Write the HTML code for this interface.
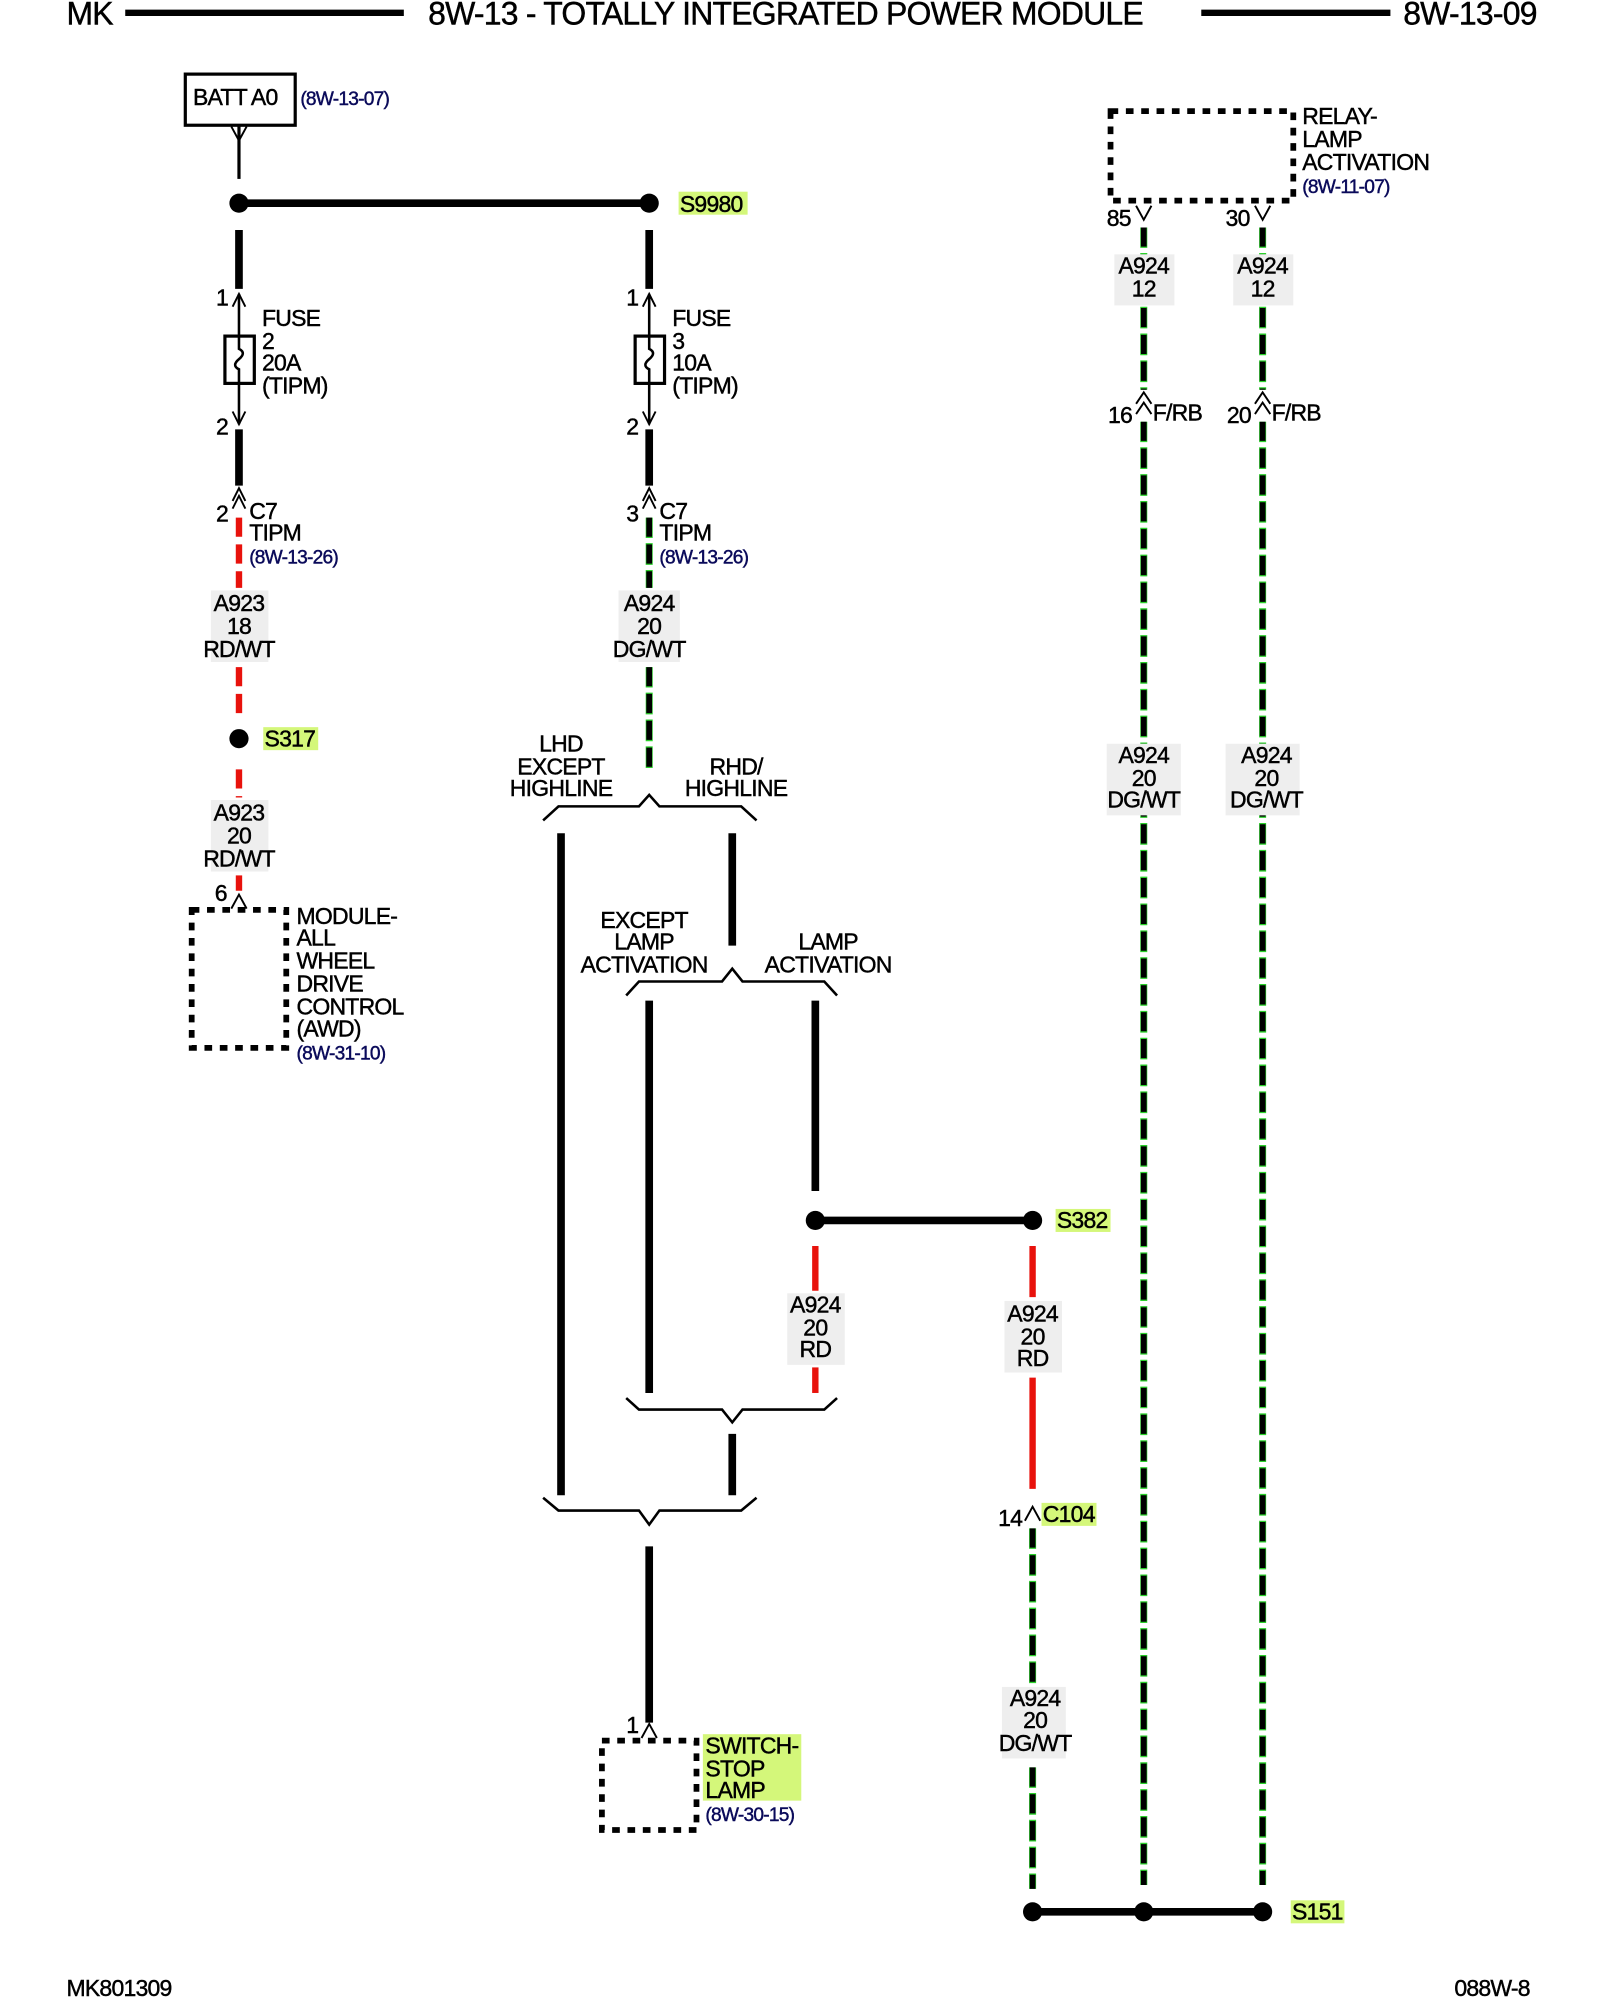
<!DOCTYPE html>
<html><head><meta charset="utf-8"><style>
html,body{margin:0;padding:0;background:#fff;}
svg{display:block;}
text{font-family:"Liberation Sans",Arial,sans-serif;font-size:18px;fill:#000;letter-spacing:-0.6px;stroke:#000;stroke-width:0.35px;}
.ref{fill:#0a0a5a;stroke:#0a0a5a;font-size:15px;}
.t{font-size:25px;}
.c{text-anchor:middle;}
</style></head><body>
<svg width="1600" height="2000" viewBox="0 0 1252 1565" preserveAspectRatio="none" xmlns="http://www.w3.org/2000/svg">
<!-- header -->
<text class="t" x="52" y="19">MK</text>
<line x1="98" y1="10" x2="316" y2="10" stroke="#000" stroke-width="5"/>
<text class="t" x="335" y="19">8W-13 - TOTALLY INTEGRATED POWER MODULE</text>
<line x1="940" y1="10" x2="1088" y2="10" stroke="#000" stroke-width="5"/>
<text class="t" x="1098" y="19">8W-13-09</text>

<!-- BATT -->
<rect x="145" y="58" width="86" height="40" fill="none" stroke="#000" stroke-width="2.5"/>
<text x="151" y="82">BATT A0</text>
<text class="ref" x="235" y="82">(8W-13-07)</text>
<polyline points="181,99 187,110 193,99" fill="none" stroke="#000" stroke-width="1.5"/>
<line x1="187" y1="99" x2="187" y2="140" stroke="#000" stroke-width="2.5"/>

<!-- S9980 -->
<line x1="187" y1="159" x2="508" y2="159" stroke="#000" stroke-width="6"/>
<circle cx="187" cy="159" r="7.5"/><circle cx="508" cy="159" r="7.5"/>
<rect x="531" y="150" width="54" height="18" fill="#d4f77a"/>
<text x="532" y="166">S9980</text>

<!-- fuse columns -->
<g id="fc">
<line x1="187" y1="180" x2="187" y2="226" stroke="#000" stroke-width="6"/>
<polyline points="182,240 187,230 192,240" fill="none" stroke="#000" stroke-width="1.5"/>
<line x1="187" y1="230" x2="187" y2="332" stroke="#000" stroke-width="2"/>
<rect x="176" y="263" width="23" height="37" fill="#fff" stroke="#000" stroke-width="2.5"/>
<path d="M187,263 v10 q6,3 0,8 q-6,5 0,8 v11" fill="none" stroke="#000" stroke-width="2"/>
<polyline points="182,322 187,332 192,322" fill="none" stroke="#000" stroke-width="1.5"/>
<line x1="187" y1="336" x2="187" y2="380" stroke="#000" stroke-width="6"/>
<polyline points="182,392 187,382 192,392" fill="none" stroke="#000" stroke-width="1.5"/>
<polyline points="182,398 187,388 192,398" fill="none" stroke="#000" stroke-width="1.5"/>
</g>
<use href="#fc" transform="translate(321,0)"/>
<text x="169" y="239">1</text><text x="169" y="340">2</text><text x="169" y="408">2</text>
<text x="490" y="239">1</text><text x="490" y="340">2</text><text x="490" y="408">3</text>
<text x="205" y="255">FUSE</text><text x="205" y="273">2</text><text x="205" y="290">20A</text><text x="205" y="308">(TIPM)</text>
<text x="526" y="255">FUSE</text><text x="526" y="273">3</text><text x="526" y="290">10A</text><text x="526" y="308">(TIPM)</text>
<text x="195" y="406">C7</text><text x="195" y="423">TIPM</text><text class="ref" x="195" y="441">(8W-13-26)</text>
<text x="516" y="406">C7</text><text x="516" y="423">TIPM</text><text class="ref" x="516" y="441">(8W-13-26)</text>

<!-- left red wire -->
<g stroke="#e8120c" stroke-width="5" stroke-dasharray="15 6">
<line x1="187" y1="405" x2="187" y2="460"/>
<line x1="187" y1="522" x2="187" y2="558"/>
<line x1="187" y1="602" x2="187" y2="624"/>
<line x1="187" y1="685" x2="187" y2="697"/>
</g>
<rect x="165" y="462" width="45" height="56" fill="#eeeeee"/>
<text class="c" x="187" y="478">A923</text><text class="c" x="187" y="496">18</text><text class="c" x="187" y="514">RD/WT</text>
<circle cx="187" cy="578" r="7.5"/>
<rect x="206" y="569" width="43" height="18" fill="#d4f77a"/><text x="207" y="584">S317</text>
<rect x="165" y="626" width="45" height="56" fill="#eeeeee"/>
<text class="c" x="187" y="642">A923</text><text class="c" x="187" y="660">20</text><text class="c" x="187" y="678">RD/WT</text>
<text x="168" y="705">6</text>
<polyline points="181,711 187,700 193,711" fill="none" stroke="#000" stroke-width="1.5"/>
<rect x="150" y="712" width="74" height="108" fill="none" stroke="#000" stroke-width="4.5" stroke-dasharray="6 6"/>
<text x="232" y="723">MODULE-</text><text x="232" y="740">ALL</text><text x="232" y="758">WHEEL</text><text x="232" y="776">DRIVE</text><text x="232" y="794">CONTROL</text><text x="232" y="811">(AWD)</text><text class="ref" x="232" y="829">(8W-31-10)</text>

<!-- middle green wire -->
<g>
<line x1="508" y1="405" x2="508" y2="460" stroke="#2bd12b" stroke-width="5.5" stroke-dasharray="17 4" stroke-dashoffset="1"/>
<line x1="508" y1="405" x2="508" y2="460" stroke="#000" stroke-width="4.5" stroke-dasharray="15 6"/>
<line x1="508" y1="522" x2="508" y2="602" stroke="#2bd12b" stroke-width="5.5" stroke-dasharray="17 4" stroke-dashoffset="1"/>
<line x1="508" y1="522" x2="508" y2="602" stroke="#000" stroke-width="4.5" stroke-dasharray="15 6"/>
</g>
<rect x="484" y="462" width="48" height="56" fill="#eeeeee"/>
<text class="c" x="508" y="478">A924</text><text class="c" x="508" y="496">20</text><text class="c" x="508" y="514">DG/WT</text>

<!-- brackets -->
<g fill="none" stroke="#000" stroke-width="2">
<polyline points="425,642 437,631 500,631 508,622 516,631 580,631 592,642"/>
<polyline points="490,779 500,768 565,768 573,758 581,768 645,768 655,779"/>
<polyline points="490,1094 500,1103 565,1103 573,1113 581,1103 645,1103 655,1094"/>
<polyline points="425,1172 437,1182 500,1182 508,1193 516,1182 580,1182 592,1172"/>
</g>
<text class="c" x="439" y="588">LHD</text><text class="c" x="439" y="606">EXCEPT</text><text class="c" x="439" y="623">HIGHLINE</text>
<text class="c" x="576" y="606">RHD/</text><text class="c" x="576" y="623">HIGHLINE</text>
<text class="c" x="504" y="726">EXCEPT</text><text class="c" x="504" y="743">LAMP</text><text class="c" x="504" y="761">ACTIVATION</text>
<text class="c" x="648" y="743">LAMP</text><text class="c" x="648" y="761">ACTIVATION</text>
<g stroke="#000" stroke-width="6">
<line x1="439" y1="652" x2="439" y2="1170"/>
<line x1="573" y1="652" x2="573" y2="740"/>
<line x1="508" y1="783" x2="508" y2="1090"/>
<line x1="638" y1="783" x2="638" y2="932"/>
<line x1="573" y1="1122" x2="573" y2="1170"/>
<line x1="508" y1="1210" x2="508" y2="1348"/>
<line x1="638" y1="955" x2="808" y2="955"/>
</g>
<circle cx="638" cy="955" r="7.5"/><circle cx="808" cy="955" r="7.5"/>
<rect x="826" y="946" width="43" height="18" fill="#d4f77a"/><text x="827" y="961">S382</text>

<!-- red wires -->
<g stroke="#e8120c" stroke-width="5">
<line x1="638" y1="975" x2="638" y2="1010"/>
<line x1="638" y1="1070" x2="638" y2="1090"/>
<line x1="808" y1="975" x2="808" y2="1015"/>
<line x1="808" y1="1078" x2="808" y2="1165"/>
</g>
<rect x="616" y="1012" width="45" height="56" fill="#eeeeee"/>
<text class="c" x="638" y="1027">A924</text><text class="c" x="638" y="1045">20</text><text class="c" x="638" y="1062">RD</text>
<rect x="786" y="1018" width="45" height="56" fill="#eeeeee"/>
<text class="c" x="808" y="1034">A924</text><text class="c" x="808" y="1052">20</text><text class="c" x="808" y="1069">RD</text>
<text x="781" y="1194">14</text>
<polyline points="802,1190 808,1179 814,1190" fill="none" stroke="#000" stroke-width="1.5"/>
<rect x="815" y="1176" width="43" height="18" fill="#d4f77a"/><text x="816" y="1191">C104</text>

<!-- switch -->
<text x="490" y="1356">1</text>
<polyline points="502,1360 508,1349 514,1360" fill="none" stroke="#000" stroke-width="1.5"/>
<rect x="471" y="1362" width="74" height="70" fill="none" stroke="#000" stroke-width="4.5" stroke-dasharray="6 6"/>
<rect x="550" y="1357" width="77" height="52" fill="#d4f77a"/>
<text x="552" y="1372">SWITCH-</text><text x="552" y="1390">STOP</text><text x="552" y="1407">LAMP</text>
<text class="ref" x="552" y="1425">(8W-30-15)</text>

<!-- right green wires -->
<g>
<line x1="808" y1="1196" x2="808" y2="1320" stroke="#2bd12b" stroke-width="5.5" stroke-dasharray="17 4" stroke-dashoffset="1"/>
<line x1="808" y1="1196" x2="808" y2="1320" stroke="#000" stroke-width="4.5" stroke-dasharray="15 6"/>
<line x1="808" y1="1383" x2="808" y2="1478" stroke="#2bd12b" stroke-width="5.5" stroke-dasharray="17 4" stroke-dashoffset="1"/>
<line x1="808" y1="1383" x2="808" y2="1478" stroke="#000" stroke-width="4.5" stroke-dasharray="15 6"/>
</g>
<rect x="784" y="1320" width="50" height="56" fill="#eeeeee"/>
<text class="c" x="810" y="1335">A924</text><text class="c" x="810" y="1352">20</text><text class="c" x="810" y="1370">DG/WT</text>

<g id="rw">
<line x1="895" y1="178" x2="895" y2="305" stroke="#2bd12b" stroke-width="5.5" stroke-dasharray="17 4" stroke-dashoffset="1"/>
<line x1="895" y1="178" x2="895" y2="305" stroke="#000" stroke-width="4.5" stroke-dasharray="15 6"/>
<line x1="895" y1="330" x2="895" y2="1475" stroke="#2bd12b" stroke-width="5.5" stroke-dasharray="17 4" stroke-dashoffset="1"/>
<line x1="895" y1="330" x2="895" y2="1475" stroke="#000" stroke-width="4.5" stroke-dasharray="15 6"/>
<rect x="872" y="199" width="47" height="40" fill="#eeeeee"/>
<rect x="866" y="582" width="58" height="56" fill="#eeeeee"/>
<polyline points="889,161 895,172 901,161" fill="none" stroke="#000" stroke-width="1.5"/>
<polyline points="889,316 895,307 901,316" fill="none" stroke="#000" stroke-width="1.5"/>
<polyline points="889,324 895,315 901,324" fill="none" stroke="#000" stroke-width="1.5"/>
</g>
<use href="#rw" transform="translate(93,0)"/>
<text class="c" x="895" y="214">A924</text><text class="c" x="895" y="232">12</text>
<text class="c" x="988" y="214">A924</text><text class="c" x="988" y="232">12</text>
<text class="c" x="895" y="597">A924</text><text class="c" x="895" y="615">20</text><text class="c" x="895" y="632">DG/WT</text>
<text class="c" x="991" y="597">A924</text><text class="c" x="991" y="615">20</text><text class="c" x="991" y="632">DG/WT</text>
<text x="866" y="177">85</text><text x="959" y="177">30</text>
<text x="867" y="331">16</text><text x="902" y="329">F/RB</text>
<text x="960" y="331">20</text><text x="995" y="329">F/RB</text>
<rect x="869" y="87" width="143" height="70" fill="none" stroke="#000" stroke-width="4.5" stroke-dasharray="6 6"/>
<text x="1019" y="97">RELAY-</text><text x="1019" y="115">LAMP</text><text x="1019" y="133">ACTIVATION</text><text class="ref" x="1019" y="151">(8W-11-07)</text>

<!-- S151 -->
<line x1="808" y1="1496" x2="988" y2="1496" stroke="#000" stroke-width="6"/>
<circle cx="808" cy="1496" r="7.5"/><circle cx="895" cy="1496" r="7.5"/><circle cx="988" cy="1496" r="7.5"/>
<rect x="1010" y="1487" width="42" height="18" fill="#d4f77a"/><text x="1011" y="1502">S151</text>

<!-- footer -->
<text x="52" y="1562">MK801309</text>
<text x="1138" y="1562">088W-8</text>
</svg>
</body></html>
